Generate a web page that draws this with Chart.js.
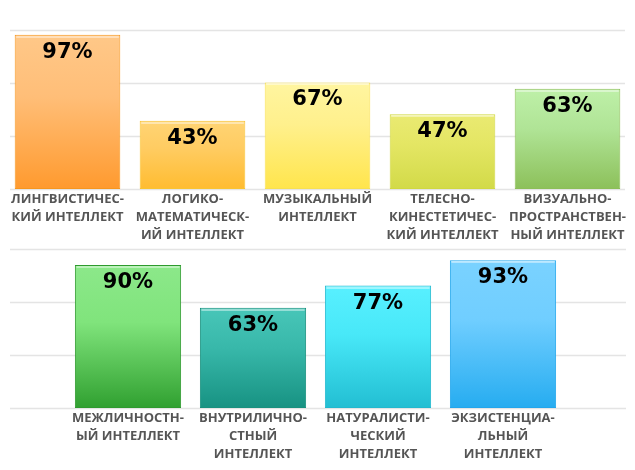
<!DOCTYPE html>
<html>
<head>
<meta charset="utf-8">
<script src="https://cdn.jsdelivr.net/npm/chart.js@4.4.1/dist/chart.umd.min.js"></script>
<style>
  html, body { margin: 0; padding: 0; background: #ffffff; }
  body { width: 635px; height: 470px; position: relative; overflow: hidden; }
  .box { position: absolute; left: 0; width: 635px; }
  #topBox { top: 0; height: 249px; }
  #botBox { top: 219px; height: 251px; }
</style>
</head>
<body>
<div class="box" id="topBox"><canvas id="topChart"></canvas></div>
<div class="box" id="botBox"><canvas id="botChart"></canvas></div>
<script>
// ---- data ----
const topLabels = [
  ["ЛИНГВИСТИЧЕС-", "КИЙ ИНТЕЛЛЕКТ"],
  ["ЛОГИКО-", "МАТЕМАТИЧЕСК-", "ИЙ ИНТЕЛЛЕКТ"],
  ["МУЗЫКАЛЬНЫЙ", "ИНТЕЛЛЕКТ"],
  ["ТЕЛЕСНО-", "КИНЕСТЕТИЧЕС-", "КИЙ ИНТЕЛЛЕКТ"],
  ["ВИЗУАЛЬНО-", "ПРОСТРАНСТВЕН-", "НЫЙ ИНТЕЛЛЕКТ"]
];
const topValues = [97, 43, 67, 47, 63];

const bottomLabels = [
  ["МЕЖЛИЧНОСТН-", "ЫЙ ИНТЕЛЛЕКТ"],
  ["ВНУТРИЛИЧНО-", "СТНЫЙ", "ИНТЕЛЛЕКТ"],
  ["НАТУРАЛИСТИ-", "ЧЕСКИЙ", "ИНТЕЛЛЕКТ"],
  ["ЭКЗИСТЕНЦИА-", "ЛЬНЫЙ", "ИНТЕЛЛЕКТ"]
];
const bottomValues = [90, 63, 77, 93];

const gridValues = [0, 100 / 3, 200 / 3, 100];

// ---- styles ----
const topTop    = ["#FFC888", "#FFD474", "#FFF5A0", "#EAEA72", "#BEF0A8"];
const topMid    = ["#FFBE78", "#FFCC62", "#FFF08C", "#E4E664", "#B0E496"];
const topBot    = ["#FF9A2E", "#FFBC30", "#FFE54C", "#D2DA48", "#8CC05A"];
const topBorder = ["#F7961E", "#F9C330", "#F8E050", "#D0D840", "#8CBE58"];

const botTop    = ["#8CE88A", "#48C6B8", "#58F0FF", "#7AD2FF"];
const botMid    = ["#80E47C", "#38B8AA", "#48E8F8", "#70CEFF"];
const botBot    = ["#30A030", "#179282", "#22BED2", "#26ACF0"];
const botBorder = ["#2E9A2E", "#18907E", "#22B8CE", "#22A6EC"];

function makeFill(tops, mids, bots) {
  return function (c) {
    const chart = c.chart;
    const i = c.dataIndex;
    const y = chart.scales && chart.scales.y;
    if (!chart.chartArea || !y || i === undefined) return bots[i || 0];
    const v = chart.data.datasets[c.datasetIndex].data[i];
    const y0 = y.getPixelForValue(v);
    const y1 = y.getPixelForValue(0);
    const g = chart.ctx.createLinearGradient(0, y0, 0, y1);
    g.addColorStop(0, tops[i]);
    g.addColorStop(0.4, mids[i]);
    g.addColorStop(1, bots[i]);
    return g;
  };
}

const decorPlugin = {
  id: 'decor',
  beforeDatasetsDraw(chart, args, opts) {
    const ctx = chart.ctx;
    const y = chart.scales.y;
    ctx.save();
    ctx.strokeStyle = '#e4e4e4';
    ctx.lineWidth = 1.4;
    gridValues.forEach(v => {
      const py = Math.round(y.getPixelForValue(v)) + 0.5;
      ctx.beginPath();
      ctx.moveTo(opts.gridLeft, py);
      ctx.lineTo(opts.gridRight, py);
      ctx.stroke();
    });
    ctx.restore();
  },
  afterDatasetsDraw(chart) {
    const ctx = chart.ctx;
    const meta = chart.getDatasetMeta(0);
    const data = chart.data.datasets[0].data;
    ctx.save();
    meta.data.forEach((bar, i) => {
      const w = bar.width;
      // top highlight
      ctx.strokeStyle = 'rgba(255,255,255,0.85)';
      ctx.lineWidth = 1;
      ctx.beginPath();
      ctx.moveTo(bar.x - w / 2 + 1.5, Math.round(bar.y) + 2);
      ctx.lineTo(bar.x + w / 2 - 1.5, Math.round(bar.y) + 2);
      ctx.stroke();
      // value label
      ctx.fillStyle = '#000000';
      ctx.font = "bold 21px 'DejaVu Sans'";
      ctx.textAlign = 'center';
      ctx.textBaseline = 'middle';
      ctx.fillText(data[i] + '%', bar.x, bar.y + 17.5);
    });
    ctx.restore();
  }
};

function makeChart(id, labels, values, tops, mids, bots, borders, pad, axisH, barPct, gridL, gridR) {
  return new Chart(document.getElementById(id), {
    type: 'bar',
    data: {
      labels: labels,
      datasets: [{
        data: values,
        backgroundColor: makeFill(tops, mids, bots),
        borderColor: borders,
        borderWidth: 1,
        borderSkipped: false,
        categoryPercentage: 1,
        barPercentage: barPct
      }]
    },
    options: {
      responsive: true,
      maintainAspectRatio: false,
      animation: false,
      layout: { padding: pad },
      plugins: {
        legend: { display: false },
        tooltip: { enabled: false },
        decor: { gridLeft: gridL, gridRight: gridR }
      },
      scales: {
        x: {
          grid: { display: false, drawTicks: false },
          border: { display: false },
          ticks: {
            autoSkip: false,
            maxRotation: 0,
            minRotation: 0,
            padding: 2,
            color: '#555555',
            font: { family: "'Open Sans', sans-serif", size: 13, weight: 'bold', lineHeight: 1.35 }
          },
          afterFit(scale) { scale.height = axisH; }
        },
        y: {
          display: false,
          min: 0,
          max: 100
        }
      }
    },
    plugins: [decorPlugin]
  });
}

makeChart('topChart', topLabels, topValues, topTop, topMid, topBot, topBorder,
  { top: 30, left: 5, right: 5, bottom: 0 }, 60, 0.845, 10, 625);
makeChart('botChart', bottomLabels, bottomValues, botTop, botMid, botBot, botBorder,
  { top: 30, left: 65.5, right: 69.5, bottom: 0 }, 62, 0.85, 10, 626);
</script>
</body>
</html>
